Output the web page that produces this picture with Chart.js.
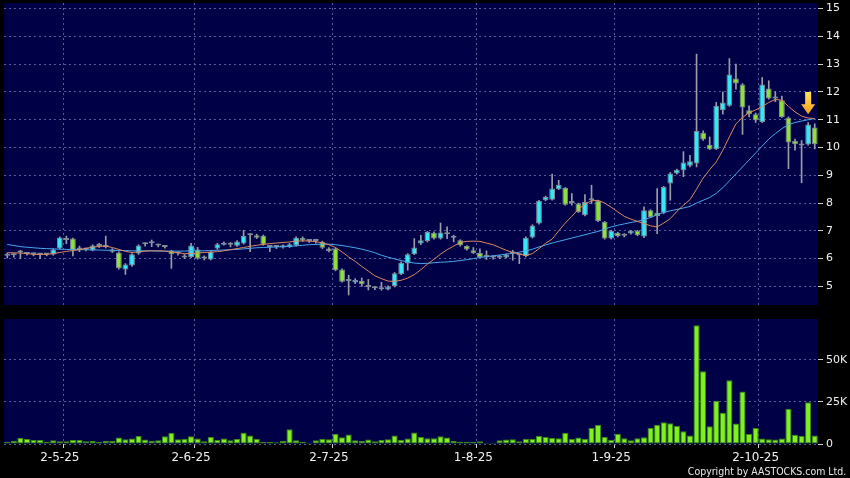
<!DOCTYPE html>
<html>
<head>
<meta charset="utf-8">
<script src="https://cdn.jsdelivr.net/npm/chart.js@4.4.1/dist/chart.umd.min.js"></script>
<style>
  html, body { margin: 0; padding: 0; background: #000; }
  #wrap { position: relative; width: 850px; height: 478px; background: #000; overflow: hidden; }
  #priceChart { position: absolute; left: 0; top: 0; }
  #volumeChart { position: absolute; left: 0; top: 310px; }
  #copy { position: absolute; right: 4px; top: 465px; line-height: 13px; color: #e8e8e8;
          font: 11px "DejaVu Sans", sans-serif; white-space: nowrap;
          transform: scaleX(0.855); transform-origin: right center; }
</style>
</head>
<body>
<div id="wrap">
  <canvas id="priceChart" width="850" height="310"></canvas>
  <canvas id="volumeChart" width="850" height="168"></canvas>
  <div id="copy">Copyright by AASTOCKS.com Ltd.</div>
</div>
<script>
// daily candles (HK$)
const openP = [6.15,6.12,6.27,6.19,6.16,6.15,6.15,6.15,6.36,6.67,
  6.72,6.33,6.33,6.30,6.45,6.42,6.33,6.22,5.61,5.75,
  6.18,6.52,6.55,6.47,6.42,6.27,6.18,6.11,6.06,6.33,
  6.00,5.97,6.36,6.56,6.50,6.46,6.54,6.84,6.84,6.82,
  6.42,6.42,6.40,6.42,6.47,6.75,6.63,6.63,6.60,6.36,
  6.36,5.61,5.19,5.14,5.19,4.98,4.93,4.90,4.89,5.01,
  5.44,5.82,6.16,6.54,6.63,6.93,6.72,6.88,6.75,6.66,
  6.45,6.30,6.20,6.06,6.04,6.03,6.04,6.18,6.12,6.09,
  6.76,7.26,8.10,8.12,8.50,8.54,8.00,7.98,7.56,8.10,
  8.08,7.32,6.72,6.93,6.82,6.90,7.00,6.80,7.74,7.65,
  7.65,8.70,9.06,9.18,9.34,9.42,10.53,10.09,9.94,11.34,
  11.50,12.48,12.27,11.34,11.20,10.92,12.12,11.76,11.70,11.07,
  10.23,10.13,10.11,10.72];
const highP = [6.20,6.18,6.30,6.22,6.20,6.18,6.18,6.35,6.78,6.81,
  6.74,6.45,6.38,6.50,6.55,6.81,6.36,6.24,5.82,6.18,
  6.50,6.58,6.67,6.52,6.46,6.30,6.24,6.15,6.55,6.40,
  6.10,6.28,6.55,6.60,6.58,6.65,7.02,6.90,6.88,6.85,
  6.48,6.46,6.50,6.55,6.78,6.78,6.68,6.70,6.63,6.40,
  6.38,5.63,5.40,5.28,5.30,5.25,5.00,5.15,5.02,5.50,
  5.88,6.18,6.72,6.84,6.98,6.96,7.28,7.14,6.84,6.68,
  6.47,6.40,6.35,6.28,6.10,6.12,6.17,6.30,6.16,6.78,
  7.22,8.10,8.25,9.04,8.82,8.56,8.34,8.00,8.30,8.64,
  8.10,7.34,7.02,6.95,6.90,7.02,7.02,7.86,7.76,8.52,
  8.60,9.10,9.22,9.85,9.72,13.36,10.60,10.38,11.62,12.00,
  13.20,13.00,12.30,11.50,11.24,12.52,12.40,12.00,11.85,11.10,
  10.30,10.25,10.90,10.85];
const lowP = [6.02,6.05,6.00,6.12,6.10,6.00,6.10,6.12,6.34,6.54,
  6.10,6.25,6.28,6.28,6.40,6.38,6.22,5.62,5.43,5.72,
  6.15,6.45,6.43,6.42,6.38,5.65,6.12,6.00,6.03,5.98,
  5.95,5.95,6.33,6.48,6.42,6.44,6.52,6.25,6.72,6.48,
  6.25,6.36,6.38,6.40,6.45,6.62,6.58,6.55,6.36,6.24,
  5.56,5.15,4.69,5.10,5.00,4.87,4.88,4.86,4.87,4.98,
  5.42,5.58,6.14,6.50,6.60,6.70,6.70,6.72,6.60,6.45,
  6.30,6.18,6.04,5.97,5.98,6.00,6.02,5.94,5.82,6.06,
  6.74,7.24,8.08,8.10,8.48,7.92,7.92,7.66,7.54,7.98,
  7.33,6.70,6.70,6.78,6.78,6.88,6.82,6.75,7.48,6.90,
  7.62,8.10,9.04,8.95,9.30,9.30,10.25,9.92,9.92,11.20,
  11.48,12.10,10.47,11.10,10.90,10.90,11.74,11.65,11.08,9.24,
  9.90,8.73,10.08,9.95];
const closeP = [6.10,6.12,6.22,6.17,6.16,6.15,6.15,6.33,6.76,6.67,
  6.30,6.33,6.33,6.47,6.45,6.42,6.25,5.65,5.79,6.16,
  6.47,6.52,6.55,6.47,6.42,6.16,6.18,6.04,6.47,6.00,
  6.00,6.24,6.52,6.50,6.50,6.62,6.81,6.84,6.75,6.51,
  6.42,6.42,6.48,6.52,6.75,6.66,6.63,6.63,6.39,6.27,
  5.58,5.17,5.19,5.23,5.08,4.98,4.93,4.90,4.99,5.47,
  5.85,6.16,6.40,6.66,6.96,6.72,6.94,6.88,6.75,6.48,
  6.33,6.20,6.06,6.06,6.04,6.03,6.15,6.18,6.12,6.75,
  7.19,8.08,8.22,8.52,8.66,7.94,8.00,7.68,8.04,8.10,
  7.35,6.72,7.00,6.81,6.86,7.00,6.84,7.74,7.50,7.53,
  8.58,9.06,9.20,9.46,9.50,10.59,10.29,9.94,11.50,11.62,
  12.63,12.30,11.44,11.20,10.98,12.27,11.76,11.76,11.10,10.18,
  10.12,10.07,10.83,10.12];

// moving average lines as drawn (orange = short, blue = long)
const maShort = [6.21,6.21,6.20,6.18,6.15,6.15,6.15,6.18,6.22,6.26,
  6.29,6.32,6.37,6.41,6.44,6.45,6.40,6.33,6.26,6.22,
  6.24,6.27,6.28,6.28,6.27,6.24,6.21,6.18,6.18,6.20,
  6.22,6.23,6.25,6.28,6.32,6.36,6.40,6.44,6.48,6.51,
  6.54,6.56,6.58,6.60,6.63,6.64,6.63,6.61,6.56,6.50,
  6.40,6.24,6.06,5.90,5.72,5.55,5.38,5.28,5.19,5.18,
  5.22,5.30,5.42,5.60,5.80,5.98,6.16,6.32,6.45,6.58,
  6.62,6.63,6.62,6.56,6.50,6.40,6.30,6.22,6.17,6.11,
  6.18,6.36,6.55,6.70,7.00,7.28,7.52,7.78,7.96,8.08,
  8.10,8.00,7.85,7.68,7.52,7.42,7.34,7.26,7.18,7.14,
  7.28,7.44,7.70,7.92,8.12,8.50,8.90,9.20,9.48,9.90,
  10.38,10.85,11.08,11.25,11.35,11.48,11.62,11.73,11.70,11.48,
  11.28,11.13,11.06,11.04];
const maLong = [6.51,6.47,6.43,6.41,6.39,6.37,6.36,6.35,6.34,6.33,
  6.33,6.32,6.32,6.31,6.31,6.30,6.30,6.29,6.29,6.28,
  6.28,6.28,6.28,6.27,6.27,6.27,6.27,6.27,6.28,6.28,
  6.28,6.29,6.30,6.31,6.32,6.33,6.35,6.37,6.39,6.40,
  6.41,6.42,6.43,6.44,6.46,6.48,6.50,6.51,6.52,6.52,
  6.50,6.47,6.43,6.39,6.34,6.28,6.21,6.12,6.05,5.99,
  5.93,5.88,5.84,5.82,5.83,5.85,5.87,5.88,5.90,5.93,
  5.96,6.00,6.04,6.07,6.10,6.13,6.16,6.19,6.23,6.28,
  6.34,6.42,6.49,6.56,6.62,6.68,6.74,6.80,6.86,6.92,
  6.98,7.06,7.14,7.20,7.25,7.30,7.34,7.40,7.48,7.58,
  7.66,7.72,7.77,7.82,7.88,8.00,8.10,8.20,8.35,8.55,
  8.80,9.05,9.30,9.55,9.80,10.05,10.30,10.50,10.68,10.82,
  10.90,10.95,11.00,11.04];

// daily volume (shares)
const volumes = [1400,2000,3600,3000,2400,2400,1400,2200,1600,1600,
  2400,2400,1600,2000,1200,2000,1800,3800,2800,3200,
  4800,2600,2000,2200,4600,6500,2800,3000,4600,3200,
  1600,4200,2400,3200,2200,3000,6700,5100,3000,1200,
  1200,1000,2000,8700,2200,1400,800,2200,3000,2800,
  6100,4000,5700,2200,1800,2600,1600,2400,2800,5000,
  2400,3200,6900,4200,3400,3400,4600,3800,1800,1400,
  1400,1200,1600,800,800,2200,2600,2800,1600,3000,
  3000,4800,4200,3600,3400,6700,3000,3800,3000,9500,
  11300,4200,2400,6100,3400,2200,3400,4000,9500,11500,
  12900,12300,10700,7500,5100,70500,43200,10500,25700,18600,
  37800,12100,31100,5900,9500,3200,2800,2600,3200,20800,
  5500,4800,24800,5000];

// axis ticks
const priceTicks = [5, 6, 7, 8, 9, 10, 11, 12, 13, 14, 15];
const volumeTicks = [0, 25000, 50000];
// month ticks: index of the first trading day of each month
const monthTickIdx = [8, 28, 49, 71, 92, 114];
const monthTickText = ['2-5-25', '2-6-25', '2-7-25', '1-8-25', '1-9-25', '2-10-25'];

// the down arrow over the last sessions
const arrowIdx = 122;
const arrowFrom = 12.0;
const arrowTo = 11.2;

const dayIdx = openP.map((v, i) => i);

const upColor = '#35e8f5';
const downColor = '#8fe03a';
const flatColor = '#a0a0a8';
const gridColor = 'rgba(112,112,175,0.8)';
const panelColor = '#000046';

Chart.defaults.font.family = 'DejaVu Sans';
Chart.defaults.font.size = 11;

// month grid lines sit on the right edge of the month's first bar
const monthGrid = new Set(monthTickIdx.map(i => i + 1));
function xGridColor(c) {
  return monthGrid.has(c.index) ? gridColor : 'rgba(0,0,0,0)';
}
function xTickColor(c) {
  return monthGrid.has(c.index) ? '#d0d0d0' : 'rgba(0,0,0,0)';
}

function candleColor(i) {
  if (closeP[i] > openP[i]) return upColor;
  if (closeP[i] < openP[i]) return downColor;
  return flatColor;
}

// navy plot panel on black
const panelBg = {
  id: 'panelBg',
  beforeDraw(chart) {
    const { ctx, chartArea: a } = chart;
    ctx.save();
    ctx.fillStyle = '#000';
    ctx.fillRect(0, 0, chart.width, chart.height);
    ctx.fillStyle = panelColor;
    ctx.fillRect(a.left, a.top, a.right - a.left, a.bottom - a.top);
    ctx.restore();
  }
};

const arrowMark = {
  id: 'arrowMark',
  afterDatasetsDraw(chart) {
    const { ctx, scales: { x, y } } = chart;
    const cx = x.getPixelForValue(arrowIdx);
    const top = y.getPixelForValue(arrowFrom);
    const tip = y.getPixelForValue(arrowTo);
    const neck = tip - 10;
    const g = ctx.createLinearGradient(0, top, 0, tip);
    g.addColorStop(0, '#ffe45c');
    g.addColorStop(1, '#ff9c1a');
    ctx.save();
    ctx.fillStyle = g;
    ctx.beginPath();
    ctx.moveTo(cx - 3, top);
    ctx.lineTo(cx + 3, top);
    ctx.lineTo(cx + 3, neck);
    ctx.lineTo(cx + 7, neck);
    ctx.lineTo(cx, tip);
    ctx.lineTo(cx - 7, neck);
    ctx.lineTo(cx - 3, neck);
    ctx.closePath();
    ctx.fill();
    ctx.restore();
  }
};

const yTicks = { color: '#f0f0f0', padding: 3, font: { family: 'DejaVu Sans', size: 11 } };

// Price panel ---------------------------------------------------------------
const ctx = document.getElementById('priceChart').getContext('2d');
const priceChart = new Chart(ctx, {
  type: 'bar',
  data: {
    labels: dayIdx,
    datasets: [
      { type: 'line', label: 'MA short', data: maShort, borderColor: '#dc8a5e', borderWidth: 1, pointRadius: 0 },
      { type: 'line', label: 'MA long', data: maLong, borderColor: '#48a8ec', borderWidth: 1, pointRadius: 0 },
      {
        label: 'body',
        data: openP.map((o, i) => [o, closeP[i]]),
        backgroundColor: c => candleColor(c.dataIndex),
        borderColor: '#7d8a98',
        borderWidth: 1,
        borderSkipped: false,
        minBarLength: 2,
        barPercentage: 0.88,
        categoryPercentage: 1,
        grouped: false
      },
      {
        label: 'wick',
        data: lowP.map((l, i) => [l, highP[i]]),
        backgroundColor: '#9c9ca8',
        barThickness: 1,
        grouped: false
      }
    ]
  },
  options: {
    responsive: false,
    animation: false,
    events: [],
    layout: { padding: { left: 4, top: 3, right: 0, bottom: 5 } },
    plugins: { legend: { display: false }, tooltip: { enabled: false } },
    scales: {
      x: {
        offset: true,
        ticks: { display: false, autoSkip: false },
        grid: { color: xGridColor, drawTicks: false, offset: true },
        border: { display: false, dash: [2, 3] },
        afterFit: s => { s.height = 0; s.paddingLeft = 0; s.paddingRight = 0; }
      },
      y: {
        position: 'right',
        min: 4.33,
        max: 15.2,
        ticks: yTicks,
        afterBuildTicks: s => { s.ticks = priceTicks.map(v => ({ value: v })); },
        grid: { color: gridColor, tickColor: '#d0d0d0', tickLength: 5, tickBorderDash: [] },
        border: { display: false, dash: [2, 3] },
        afterFit: s => { s.width = 32; s.paddingTop = 0; s.paddingBottom = 0; }
      }
    }
  },
  plugins: [panelBg, arrowMark]
});

// Volume panel --------------------------------------------------------------
const ctx2 = document.getElementById('volumeChart').getContext('2d');
const volumeChart = new Chart(ctx2, {
  type: 'bar',
  data: {
    labels: dayIdx,
    datasets: [{
      label: 'Volume',
      data: volumes,
      backgroundColor: '#80f020',
      borderColor: '#3a8a12',
      borderWidth: 1,
      borderSkipped: false,
      barPercentage: 0.94,
      categoryPercentage: 1
    }]
  },
  options: {
    responsive: false,
    animation: false,
    events: [],
    layout: { padding: { left: 4, top: 9, right: 0, bottom: 0 } },
    plugins: { legend: { display: false }, tooltip: { enabled: false } },
    scales: {
      x: {
        offset: true,
        ticks: {
          autoSkip: false, maxRotation: 0, minRotation: 0, padding: 3,
          color: '#f0f0f0', font: { family: 'DejaVu Sans', size: 12 },
          callback: (v, i) => {
            const k = monthTickIdx.indexOf(i);
            return k >= 0 ? monthTickText[k] : '';
          }
        },
        grid: { color: xGridColor, tickColor: xTickColor, tickLength: 4, tickBorderDash: [], offset: true },
        border: { display: false, dash: [2, 3] },
        afterFit: s => { s.height = 34; s.paddingLeft = 0; s.paddingRight = 0; }
      },
      y: {
        position: 'right',
        min: 0,
        max: 74200,
        ticks: Object.assign({ callback: v => v === 0 ? '0' : (v / 1000) + 'K' }, yTicks),
        afterBuildTicks: s => { s.ticks = volumeTicks.map(v => ({ value: v })); },
        grid: { color: gridColor, tickColor: '#d0d0d0', tickLength: 5, tickBorderDash: [] },
        border: { display: false, dash: [2, 3] },
        afterFit: s => { s.width = 32; s.paddingTop = 0; s.paddingBottom = 0; }
      }
    }
  },
  plugins: [panelBg]
});
</script>
</body>
</html>
